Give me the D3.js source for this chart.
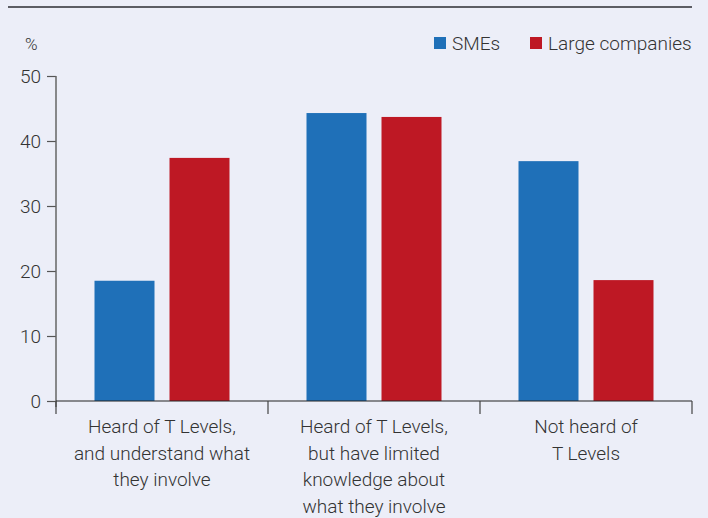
<!DOCTYPE html>
<html><head><meta charset="utf-8">
<script src="https://cdn.jsdelivr.net/npm/d3@7"></script>
<style>
html,body{margin:0;padding:0;background:#eceef8;}
svg{display:block;font-family:Roboto,"Open Sans",sans-serif;}
</style></head>
<body>
<svg id="chart" width="708" height="518"></svg>
<script>
const categories = [
  ["Heard of T Levels,", "and understand what", "they involve"],
  ["Heard of T Levels,", "but have limited", "knowledge about", "what they involve"],
  ["Not heard of", "T Levels"]
];
const seriesNames = ["SMEs", "Large companies"];
const smeValues = [18.5, 44.3, 36.9];
const largeValues = [37.4, 43.7, 18.6];
const yTicks = [0, 10, 20, 30, 40, 50];
const colors = ["#1f70b8", "#be1824"];

const svg = d3.select("#chart");
const x0 = 56, x1 = 692, yTop = 76, yBot = 401;
const FS = 19;

svg.append("rect").attr("width",708).attr("height",518).attr("fill","#eceef8");
svg.append("line").attr("x1",8).attr("x2",692).attr("y1",7).attr("y2",7)
  .attr("stroke","#2d2d33").attr("stroke-width",1.5);

const x = d3.scaleBand().domain(d3.range(categories.length)).range([x0, x1]).padding(0);
const barW = 60, gap = 15;
const y = d3.scaleLinear().domain([0, 50]).range([yBot, yTop]);

const data = categories.map((c, i) => ({i, vals: [smeValues[i], largeValues[i]]}));
const g = svg.append("g");
data.forEach(d => {
  const cx = x(d.i) + x.bandwidth()/2;
  d.vals.forEach((v, k) => {
    const bx = cx - (barW*2+gap)/2 + k*(barW+gap);
    g.append("rect").attr("x", bx).attr("width", barW)
      .attr("y", y(v)).attr("height", y(0)-y(v)).attr("fill", colors[k]);
  });
});

// y axis
const yAxis = d3.axisLeft(y).tickValues(yTicks).tickSize(9).tickPadding(6);
const ya = svg.append("g").attr("transform",`translate(${x0},0)`).call(yAxis);
ya.select(".domain").remove();
ya.selectAll(".tick line").attr("stroke","#555").attr("stroke-width",1.2);
ya.selectAll(".tick text").attr("fill","#333").attr("font-size",FS).attr("font-weight",300)
  .attr("font-family","Roboto");
svg.append("line").attr("x1",x0).attr("x2",x0).attr("y1",yTop).attr("y2",407)
  .attr("stroke","#666").attr("stroke-width",1.5);

// x axis
svg.append("line").attr("x1",x0).attr("x2",x1).attr("y1",yBot).attr("y2",yBot)
  .attr("stroke","#222").attr("stroke-width",1.2);
const xtickPos = d3.range(categories.length+1).map(i => i < categories.length ? x(i) : x1);
xtickPos.forEach(px => {
  svg.append("line").attr("x1",px).attr("x2",px).attr("y1",yBot).attr("y2",414)
    .attr("stroke","#444").attr("stroke-width",1.2);
});
categories.forEach((lines, i) => {
  const t = svg.append("text").attr("text-anchor","middle").attr("fill","#333")
    .attr("font-size",FS).attr("font-weight",300);
  lines.forEach((ln, j) => {
    t.append("tspan").attr("x", x(i)+x.bandwidth()/2).attr("y", 433 + j*26.7).text(ln);
  });
});

// % label
svg.append("text").attr("x",25).attr("y",50).attr("fill","#333").attr("font-size",17)
  .attr("font-weight",300).text("%");

// legend
const legend = [{name:seriesNames[0], x:434, tx:452},{name:seriesNames[1], x:530, tx:548}];
legend.forEach((l,k) => {
  svg.append("rect").attr("x",l.x).attr("y",37).attr("width",12).attr("height",12).attr("fill",colors[k]);
  svg.append("text").attr("x",l.tx).attr("y",50).attr("fill","#333").attr("font-size",FS)
    .attr("font-weight",300).text(l.name);
});
</script>
</body></html>
